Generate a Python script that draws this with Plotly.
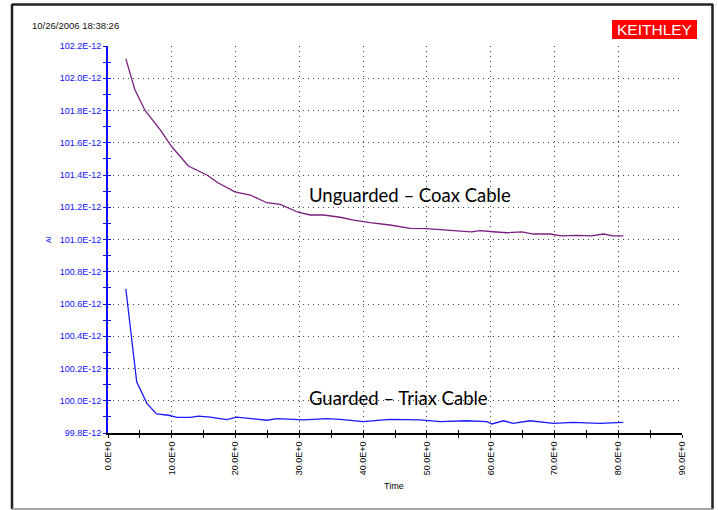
import plotly.graph_objects as go

# ---- data ----
time_unguarded = [2.8, 4.2, 5.8, 8.2, 10.0, 12.6, 15.5, 17.3, 19.9, 22.3, 24.9, 27.0, 29.8,
                  31.7, 33.8, 36.4, 38.5, 41.1, 44.2, 47.4, 50.0, 52.1, 54.7, 57.0, 58.3,
                  60.4, 62.5, 64.9, 66.7, 69.3, 71.1, 73.5, 75.8, 77.7, 79.2, 80.8]
current_unguarded_pA = [102.12, 101.93, 101.80, 101.68, 101.575, 101.456, 101.40, 101.35, 101.296,
                        101.276, 101.228, 101.218, 101.169, 101.152, 101.152, 101.138, 101.12,
                        101.104, 101.09, 101.069, 101.067, 101.059, 101.053, 101.047, 101.055,
                        101.048, 101.042, 101.047, 101.034, 101.034, 101.022, 101.026, 101.022,
                        101.034, 101.022, 101.022]

time_guarded = [2.8, 4.5, 6.1, 7.6, 9.5, 10.8, 12.9, 14.2, 16.0, 18.6, 20.2, 22.3, 24.9, 26.5,
                28.5, 30.6, 34.3, 36.4, 40.0, 44.2, 48.9, 52.1, 56.2, 59.4, 60.2, 62.0, 63.5,
                66.2, 69.8, 72.9, 77.1, 80.8]
current_guarded_pA = [100.693, 100.118, 99.984, 99.918, 99.910, 99.897, 99.897, 99.905, 99.899,
                      99.883, 99.899, 99.889, 99.879, 99.889, 99.885, 99.881, 99.889, 99.885,
                      99.870, 99.885, 99.881, 99.870, 99.876, 99.870, 99.856, 99.876, 99.860,
                      99.876, 99.860, 99.866, 99.860, 99.866]

x_tick_vals = [0, 10, 20, 30, 40, 50, 60, 70, 80, 90]
x_tick_text = ["0.0E+0", "10.0E+0", "20.0E+0", "30.0E+0", "40.0E+0", "50.0E+0",
               "60.0E+0", "70.0E+0", "80.0E+0", "90.0E+0"]
y_tick_vals_pA = [99.8, 100.0, 100.2, 100.4, 100.6, 100.8, 101.0, 101.2, 101.4, 101.6,
                  101.8, 102.0, 102.2]
y_tick_text = ["99.8E-12", "100.0E-12", "100.2E-12", "100.4E-12", "100.6E-12", "100.8E-12",
               "101.0E-12", "101.2E-12", "101.4E-12", "101.6E-12", "101.8E-12", "102.0E-12",
               "102.2E-12"]

E = 1e-12
y_unguarded = [v * E for v in current_unguarded_pA]
y_guarded = [v * E for v in current_guarded_pA]
y_tick_vals = [v * E for v in y_tick_vals_pA]
y_range = [99.8 * E, 102.2 * E]
x_range = [0, 90]

FONT = "Liberation Sans, Arial, sans-serif"
BLUE = "#1010ff"

fig = go.Figure()
fig.add_trace(go.Scatter(x=time_unguarded, y=y_unguarded, mode="lines",
                         line=dict(color="#7a1f80", width=1.3), showlegend=False,
                         hoverinfo="skip"))
fig.add_trace(go.Scatter(x=time_guarded, y=y_guarded, mode="lines",
                         line=dict(color="#1a1aff", width=1.3), showlegend=False,
                         hoverinfo="skip"))

grid_dash = "1px,4px"

fig.update_layout(
    width=718, height=510,
    margin=dict(l=108, r=36, t=46, b=77),
    paper_bgcolor="white", plot_bgcolor="white",
    font=dict(family=FONT, size=9, color="black"),
    xaxis=dict(
        range=x_range, tickmode="array", tickvals=x_tick_vals, ticktext=x_tick_text,
        tickangle=-90, tickfont=dict(family=FONT, size=9, color="black"),
        ticks="outside", ticklen=3, tickcolor="black", tickwidth=1,
        minor=dict(dtick=5, tick0=0, ticks="outside", ticklen=3, tickcolor="black", showgrid=False),
        showline=True, linecolor="black", linewidth=2,
        showgrid=True, gridcolor="#444", griddash=grid_dash, gridwidth=1,
        zeroline=False, fixedrange=True,
    ),
    xaxis2=dict(
        range=x_range, overlaying="x", anchor="y", side="bottom",
        tickmode="linear", tick0=0, dtick=5, ticks="inside", ticklen=3, tickcolor="black",
        showticklabels=False, showgrid=False, showline=False, zeroline=False,
    ),
    yaxis=dict(
        range=y_range, tickmode="array", tickvals=y_tick_vals, ticktext=y_tick_text,
        tickfont=dict(family=FONT, size=9, color=BLUE),
        ticks="outside", ticklen=3, tickcolor=BLUE, tickwidth=1,
        minor=dict(dtick=0.1 * E, tick0=99.8 * E, ticks="outside", ticklen=3,
                   tickcolor=BLUE, showgrid=False),
        showline=True, linecolor=BLUE, linewidth=2,
        showgrid=True, gridcolor="#444", griddash=grid_dash, gridwidth=1,
        zeroline=False, fixedrange=True,
    ),
    yaxis2=dict(
        range=y_range, overlaying="y", anchor="x", side="left",
        tickmode="linear", tick0=99.8 * E, dtick=0.1 * E, ticks="inside", ticklen=3,
        tickcolor=BLUE, showticklabels=False, showgrid=False, showline=False, zeroline=False,
    ),
)

# invisible traces to make the overlay tick axes exist
fig.add_trace(go.Scatter(x=[None], y=[None], xaxis="x2", yaxis="y", showlegend=False,
                         hoverinfo="skip"))
fig.add_trace(go.Scatter(x=[None], y=[None], xaxis="x", yaxis="y2", showlegend=False,
                         hoverinfo="skip"))

# outer frame
px_x = lambda p: (p - 108) / 574.0
px_y = lambda p: (433 - p) / 387.0
fr = dict(type="line", xref="paper", yref="paper")
fig.add_shape(**fr, x0=px_x(12), x1=px_x(12), y0=px_y(4), y1=px_y(509), line=dict(color="#222", width=2.5))
fig.add_shape(**fr, x0=px_x(12), x1=px_x(713), y0=px_y(4.5), y1=px_y(4.5), line=dict(color="#222", width=2.5))
fig.add_shape(**fr, x0=px_x(712.5), x1=px_x(712.5), y0=px_y(4), y1=px_y(509), line=dict(color="#222", width=2.5))
fig.add_shape(**fr, x0=px_x(12), x1=px_x(713), y0=px_y(509), y1=px_y(509), line=dict(color="#888", width=1.5))

# KEITHLEY logo
fig.add_shape(type="rect", xref="paper", yref="paper",
              x0=px_x(612), x1=px_x(697), y0=px_y(39), y1=px_y(20),
              fillcolor="#ff0000", line=dict(width=0))
fig.add_annotation(text="KEITHLEY", xref="paper", yref="paper", x=px_x(654.5), y=px_y(29.5),
                   xanchor="center", yanchor="middle", showarrow=False,
                   font=dict(family=FONT, size=15.5, color="white"))

# timestamp
fig.add_annotation(text="10/26/2006 18:38:26", xref="paper", yref="paper", x=px_x(30), y=px_y(25.5),
                   xanchor="left", yanchor="middle", showarrow=False,
                   font=dict(family=FONT, size=9.5, color="#111"))

# axis titles
fig.add_annotation(text="AI", xref="paper", yref="paper", x=px_x(49), y=px_y(240),
                   xanchor="center", yanchor="middle", textangle=-90, showarrow=False,
                   font=dict(family=FONT, size=7, color=BLUE))
fig.add_annotation(text="Time", xref="paper", yref="paper", x=px_x(394), y=px_y(486),
                   xanchor="center", yanchor="middle", showarrow=False,
                   font=dict(family=FONT, size=9, color="black"))

# curve labels
LABEL_FONT = "Lato, Noto Sans, sans-serif"
fig.add_annotation(text="Unguarded – Coax Cable", xref="paper", yref="paper", x=px_x(307), y=px_y(194.5),
                   xanchor="left", yanchor="middle", showarrow=False,
                   font=dict(family=LABEL_FONT, size=18.5, color="black"))
fig.add_annotation(text="Guarded – Triax Cable", xref="paper", yref="paper", x=px_x(307), y=px_y(398),
                   xanchor="left", yanchor="middle", showarrow=False,
                   font=dict(family=LABEL_FONT, size=18.5, color="black"))

fig.write_html("out.html", config={"displayModeBar": False},
               post_script="document.body.style.margin='0';document.body.style.padding='0';")
